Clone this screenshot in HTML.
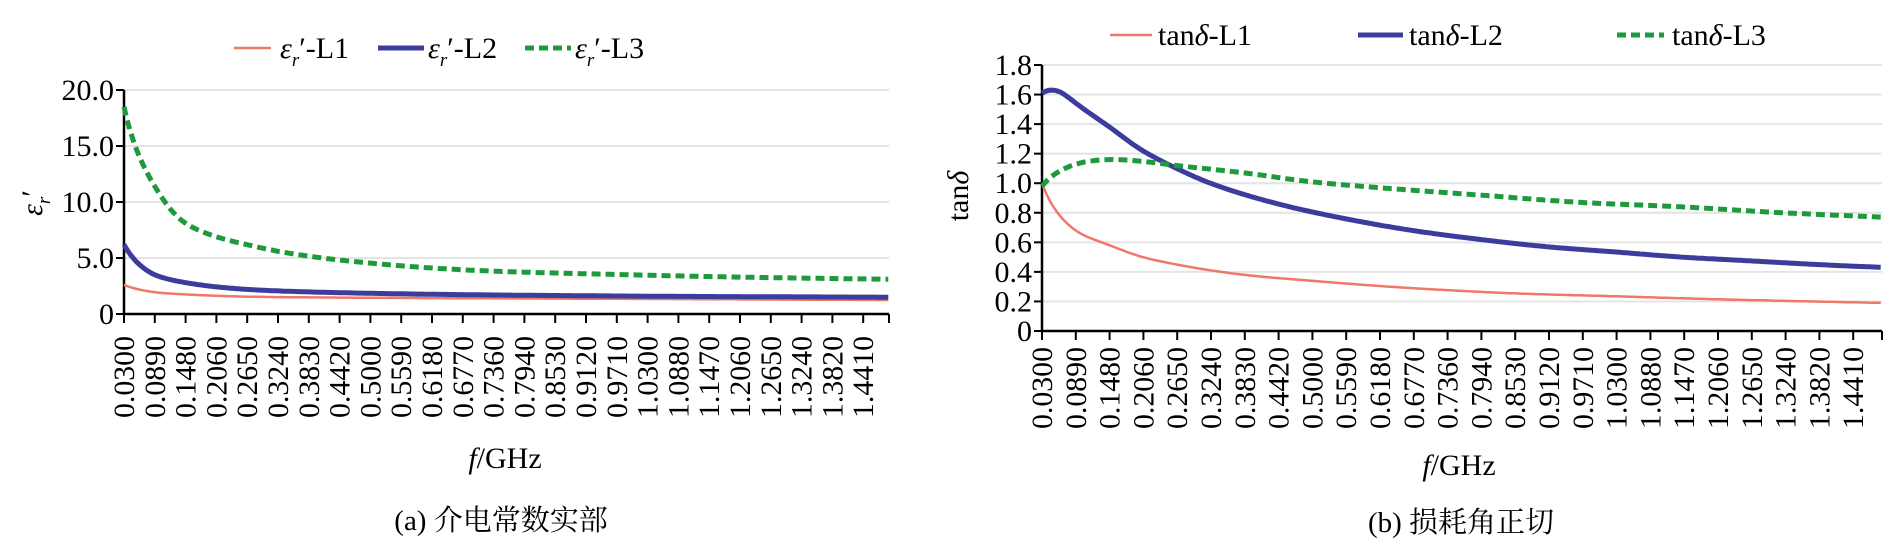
<!DOCTYPE html>
<html><head><meta charset="utf-8"><style>
html,body{margin:0;padding:0;background:#fff;}
svg{display:block;font-family:"Liberation Serif","Noto Serif CJK SC",serif;}
</style></head><body>
<svg id="s" width="1890" height="546" viewBox="0 0 1890 546" xmlns="http://www.w3.org/2000/svg">
<g id="g"></g>
<line x1="234" y1="48" x2="271" y2="48" stroke="#f07868" stroke-width="2.5"/>
<text x="280" y="58" font-size="30"><tspan font-style="italic">ε</tspan><tspan font-style="italic" font-size="19" dy="8">r</tspan><tspan dy="-8">′-L1</tspan></text>
<line x1="378" y1="48" x2="424" y2="48" stroke="#3c3c9c" stroke-width="5"/>
<text x="428" y="58" font-size="30"><tspan font-style="italic">ε</tspan><tspan font-style="italic" font-size="19" dy="8">r</tspan><tspan dy="-8">′-L2</tspan></text>
<line x1="525" y1="48" x2="571" y2="48" stroke="#1e9a3c" stroke-width="5" stroke-dasharray="9,5"/>
<text x="575" y="58" font-size="30"><tspan font-style="italic">ε</tspan><tspan font-style="italic" font-size="19" dy="8">r</tspan><tspan dy="-8">′-L3</tspan></text>
<text transform="translate(42,203) rotate(-90)" text-anchor="middle" font-size="30"><tspan font-style="italic">ε</tspan><tspan font-style="italic" font-size="19" dy="8">r</tspan><tspan dy="-8">′</tspan></text>
<text x="505" y="468" text-anchor="middle" font-size="30"><tspan font-style="italic">f</tspan>/GHz</text>
<text x="501" y="530" text-anchor="middle" font-size="29">(a) 介电常数实部</text>
<line x1="1110" y1="35" x2="1152" y2="35" stroke="#f07868" stroke-width="2.5"/>
<text x="1158" y="45" font-size="30">tan<tspan font-style="italic">δ</tspan>-L1</text>
<line x1="1358" y1="35" x2="1403" y2="35" stroke="#3c3c9c" stroke-width="5"/>
<text x="1409" y="45" font-size="30">tan<tspan font-style="italic">δ</tspan>-L2</text>
<line x1="1617" y1="35" x2="1664" y2="35" stroke="#1e9a3c" stroke-width="5" stroke-dasharray="9,5"/>
<text x="1672" y="45" font-size="30">tan<tspan font-style="italic">δ</tspan>-L3</text>
<text transform="translate(968,196) rotate(-90)" text-anchor="middle" font-size="30">tan<tspan font-style="italic">δ</tspan></text>
<text x="1459" y="475" text-anchor="middle" font-size="30"><tspan font-style="italic">f</tspan>/GHz</text>
<text x="1461" y="532" text-anchor="middle" font-size="29">(b) 损耗角正切</text>
</svg>
<script>
var NS="http://www.w3.org/2000/svg",g=document.getElementById('g');
function el(t,a,txt){var e=document.createElementNS(NS,t);for(var k in a)e.setAttribute(k,a[k]);if(txt!=null)e.textContent=txt;g.appendChild(e);return e;}
var labs=["0.0300","0.0890","0.1480","0.2060","0.2650","0.3240","0.3830","0.4420","0.5000","0.5590","0.6180","0.6770","0.7360","0.7940","0.8530","0.9120","0.9710","1.0300","1.0880","1.1470","1.2060","1.2650","1.3240","1.3820","1.4410"];
function interp(pts,f){
 var X=pts.map(function(p){return Math.log(p[0]);}),Y=pts.map(function(p){return p[1];}),lf=Math.log(f),n=pts.length;
 for(var i=0;i<n-1;i++){if(lf<=X[i+1]||i==n-2){
  var h=X[i+1]-X[i],t=(lf-X[i])/h;
  var m0=i>0?(Y[i+1]-Y[i-1])/(X[i+1]-X[i-1]):(Y[1]-Y[0])/(X[1]-X[0]);
  var m1=i<n-2?(Y[i+2]-Y[i])/(X[i+2]-X[i]):(Y[n-1]-Y[n-2])/(X[n-1]-X[n-2]);
  var t2=t*t,t3=t2*t;
  return (2*t3-3*t2+1)*Y[i]+(t3-2*t2+t)*h*m0+(-2*t3+3*t2)*Y[i+1]+(t3-t2)*h*m1;}}
 return Y[n-1];}
function chart(c){
 for(var i=0;i<c.yt.length;i++){var y=c.y0-(c.yt[i][0]/c.ymax)*(c.y0-c.ytop);
  if(i>0)el('line',{x1:c.x0,x2:c.x1,y1:y,y2:y,stroke:'#e4e4e4','stroke-width':2});
  el('line',{x1:c.x0-8,x2:c.x0,y1:y,y2:y,stroke:'#000','stroke-width':2});
  el('text',{x:c.x0-10,y:y+10,'text-anchor':'end','font-size':30},c.yt[i][1]);}
 el('line',{x1:c.x0,x2:c.x0,y1:c.ytop,y2:c.y0,stroke:'#000','stroke-width':2.5});
 el('line',{x1:c.x0,x2:c.x1,y1:c.y0,y2:c.y0,stroke:'#000','stroke-width':2.5});
 for(var i=0;i<labs.length;i++){var x=c.x0+i*c.dx;
  el('line',{x1:x,x2:x,y1:c.y0,y2:c.y0+9,stroke:'#000','stroke-width':2});
  el('text',{transform:'translate('+(x+10)+','+c.lb+') rotate(-90)','font-size':30,textLength:c.ll,lengthAdjust:'spacingAndGlyphs'},labs[i]);}
 el('line',{x1:c.x1,x2:c.x1,y1:c.y0,y2:c.y0+9,stroke:'#000','stroke-width':2});
 for(var s=0;s<c.series.length;s++){var S=c.series[s],d='';
  for(var f=0.03;f<=1.5;f+=0.004){var x=c.x0+(f-0.03)/0.059*c.dx;if(x>c.x1)break;var y=c.y0-interp(S.p,f)/c.ymax*(c.y0-c.ytop);d+=(d?'L':'M')+x.toFixed(1)+','+y.toFixed(1);}
  var a={d:d,fill:'none',stroke:S.c,'stroke-width':S.w,'stroke-linejoin':'round'};if(S.da)a['stroke-dasharray']=S.da;el('path',a);}
}
chart({x0:124,x1:889,dx:30.8,y0:314,ytop:90,ymax:20,lb:418,ll:82,
 yt:[[0,'0'],[5,'5.0'],[10,'10.0'],[15,'15.0'],[20,'20.0']],
 series:[
 {c:'#f07868',w:2.5,p:[[0.03,2.6],[0.089,1.95],[0.148,1.75],[0.265,1.55],[0.5,1.45],[1.0,1.35],[1.5,1.25]]},
 {c:'#3c3c9c',w:5,p:[[0.03,6.2],[0.06,4.4],[0.089,3.5],[0.148,2.8],[0.265,2.2],[0.5,1.85],[1.0,1.6],[1.5,1.5]]},
 {c:'#1e9a3c',w:5,da:'9,5',p:[[0.03,18.5],[0.06,14],[0.089,11.4],[0.12,9.3],[0.148,8.1],[0.2,7.0],[0.265,6.2],[0.35,5.4],[0.5,4.55],[0.7,3.9],[1.0,3.5],[1.2,3.3],[1.5,3.1]]}
 ]});
chart({x0:1042,x1:1882,dx:33.8,y0:331,ytop:65,ymax:1.8,lb:429,ll:82,
 yt:[[0,'0'],[0.2,'0.2'],[0.4,'0.4'],[0.6,'0.6'],[0.8,'0.8'],[1.0,'1.0'],[1.2,'1.2'],[1.4,'1.4'],[1.6,'1.6'],[1.8,'1.8']],
 series:[
 {c:'#f07868',w:2.5,p:[[0.03,1.0],[0.05,0.84],[0.089,0.68],[0.148,0.58],[0.206,0.5],[0.265,0.45],[0.383,0.38],[0.5,0.34],[0.677,0.29],[0.853,0.255],[1.03,0.235],[1.206,0.215],[1.5,0.19]]},
 {c:'#3c3c9c',w:5,p:[[0.03,1.61],[0.045,1.63],[0.065,1.61],[0.1,1.51],[0.148,1.38],[0.206,1.22],[0.265,1.1],[0.324,1.0],[0.442,0.86],[0.559,0.76],[0.677,0.68],[0.794,0.62],[0.912,0.57],[1.03,0.535],[1.147,0.5],[1.265,0.475],[1.382,0.45],[1.5,0.43]]},
 {c:'#1e9a3c',w:5,da:'9,5',p:[[0.03,0.98],[0.06,1.08],[0.1,1.14],[0.148,1.16],[0.2,1.15],[0.265,1.12],[0.383,1.07],[0.5,1.01],[0.618,0.97],[0.794,0.92],[0.971,0.87],[1.147,0.84],[1.324,0.8],[1.5,0.77]]}
 ]});
</script>
</body></html>
